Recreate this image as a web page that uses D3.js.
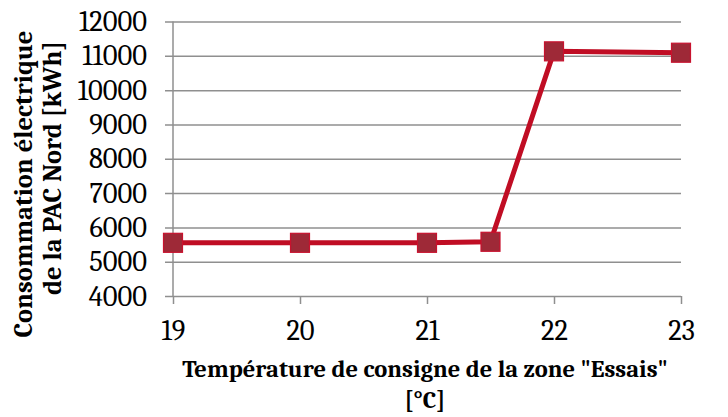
<!DOCTYPE html>
<html>
<head>
<meta charset="utf-8">
<script src="https://cdn.jsdelivr.net/npm/d3@7"></script>
<style>
  html, body { margin: 0; padding: 0; background: #fff; }
  svg { display: block; }
</style>
</head>
<body>
<svg id="chart" width="728" height="417"></svg>
<script>
// Set-point temperature of the "Essais" zone (°C)
const temperatures = [19, 20, 21, 21.5, 22, 23];
// Electricity consumption of the north heat pump (kWh)
const consumption = [5550, 5550, 5550, 5580, 11130, 11090];
const xTicks = [19, 20, 21, 22, 23];
const yTicks = [4000, 5000, 6000, 7000, 8000, 9000, 10000, 11000, 12000];
const yTitleLines = ["Consommation électrique", "de la PAC Nord [kWh]"];
const xTitleLines = ["Température de consigne de la zone \"Essais\"", "[°C]"];

const svg = d3.select("#chart");
const plot = { left: 173, right: 681, top: 21.5, bottom: 296 };
const fontFamily = "Cambria, Caladea, 'Liberation Serif', serif";
const gridColor = "#8f8f8f";
const lineColor = "#c00d24";

const x = d3.scaleLinear().domain([19, 23]).range([plot.left, plot.right]);
const y = d3.scaleLinear().domain([4000, 12000]).range([plot.bottom, plot.top]);

// Horizontal gridlines with left tick marks
const yAxis = d3.axisLeft(y)
  .tickValues(yTicks)
  .tickSize(-(plot.right - plot.left))
  .tickPadding(26)
  .tickFormat(d3.format("d"));

const gy = svg.append("g")
  .attr("transform", `translate(${plot.left},0)`)
  .call(yAxis);
gy.select(".domain").remove();
gy.selectAll(".tick line")
  .attr("x1", -8)
  .attr("stroke", gridColor)
  .attr("stroke-width", 1.5);
gy.selectAll(".tick text")
  .attr("font-family", fontFamily)
  .attr("font-size", 28.5)
  .attr("fill", "#000");

// Vertical axis line
svg.append("line")
  .attr("x1", plot.left).attr("x2", plot.left)
  .attr("y1", plot.top).attr("y2", plot.bottom)
  .attr("stroke", gridColor).attr("stroke-width", 1.5);

// Bottom axis ticks and labels
const xAxis = d3.axisBottom(x)
  .tickValues(xTicks)
  .tickSize(8)
  .tickPadding(16)
  .tickFormat(d3.format("d"));
const gx = svg.append("g")
  .attr("transform", `translate(0,${plot.bottom})`)
  .call(xAxis);
gx.select(".domain").remove();
gx.selectAll(".tick line").attr("stroke", gridColor).attr("stroke-width", 1.5);
gx.selectAll(".tick text")
  .attr("font-family", fontFamily)
  .attr("font-size", 28.5)
  .attr("fill", "#000");

// Data series
const points = temperatures.map((t, i) => ({ t, v: consumption[i] }));
const line = d3.line().x(d => x(d.t)).y(d => y(d.v));

svg.append("path")
  .datum(points)
  .attr("d", line)
  .attr("fill", "none")
  .attr("stroke", lineColor)
  .attr("stroke-width", 5)
  .attr("stroke-linejoin", "round");

const markerSize = 19;
svg.append("g").selectAll("rect")
  .data(points)
  .join("rect")
  .attr("x", d => x(d.t) - markerSize / 2)
  .attr("y", d => y(d.v) - markerSize / 2)
  .attr("width", markerSize)
  .attr("height", markerSize)
  .attr("fill", "#9e2937")
  .attr("stroke", "#c8122e")
  .attr("stroke-width", 1.2);

// Vertical axis title, two lines
const yTitlePos = [{ bx: 32, cy: 184 }, { bx: 61, cy: 168 }];
svg.append("g").selectAll("text")
  .data(yTitleLines)
  .join("text")
  .attr("transform", (d, i) => `translate(${yTitlePos[i].bx},${yTitlePos[i].cy}) rotate(-90)`)
  .attr("text-anchor", "middle")
  .attr("font-family", fontFamily)
  .attr("font-weight", "bold")
  .attr("font-size", 26.5)
  .attr("fill", "#000")
  .text(d => d);

// Horizontal axis title, two lines
svg.append("g").selectAll("text")
  .data(xTitleLines)
  .join("text")
  .attr("x", 425)
  .attr("y", (d, i) => 377 + i * 31)
  .attr("text-anchor", "middle")
  .attr("font-family", fontFamily)
  .attr("font-weight", "bold")
  .attr("font-size", 24.5)
  .attr("fill", "#000")
  .text(d => d);
</script>
</body>
</html>
